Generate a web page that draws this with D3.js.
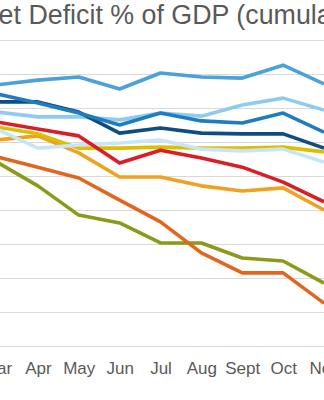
<!DOCTYPE html>
<html>
<head>
<meta charset="utf-8">
<script src="https://cdn.jsdelivr.net/npm/d3@7"></script>
<style>
  html, body { margin: 0; padding: 0; background: #fff; overflow: hidden; }
  svg { display: block; }
</style>
</head>
<body>
<div id="chart"></div>
<script>
const title = "Budget Deficit % of GDP (cumulative)";
const months = ["Mar", "Apr", "May", "Jun", "Jul", "Aug", "Sept", "Oct", "Nov"];
const gridValues = [1, 0, -1, -2, -3, -4, -5, -6, -7, -8];

const seriesA = [-0.32, -0.18, -0.09, -0.44, 0.03, -0.09, -0.12, 0.26, -0.29];
const seriesB = [-0.59, -0.85, -1.15, -1.50, -1.15, -1.38, -1.44, -1.15, -1.71];
const seriesC = [-0.82, -0.82, -1.12, -1.74, -1.59, -1.74, -1.76, -1.76, -2.18];
const seriesD = [-1.12, -1.26, -1.26, -1.35, -1.15, -1.24, -0.91, -0.71, -1.06];
const seriesE = [-1.62, -2.18, -2.09, -2.03, -1.94, -2.21, -2.26, -2.21, -2.59];
const seriesF = [-1.56, -1.76, -2.18, -2.18, -2.15, -2.18, -2.18, -2.15, -2.29];
const seriesG = [-1.94, -1.82, -2.32, -3.03, -3.03, -3.29, -3.44, -3.35, -4.00];
const seriesH = [-1.41, -1.62, -1.82, -2.62, -2.24, -2.47, -2.74, -3.18, -3.76];
const seriesI = [-2.44, -2.74, -3.06, -3.71, -4.35, -5.26, -5.85, -5.85, -6.74];
const seriesJ = [-2.59, -3.29, -4.15, -4.38, -4.97, -4.97, -5.41, -5.50, -6.15];

// drawing order (bottom first)
const series = [
  { values: seriesJ, color: "#8c9a1a" },
  { values: seriesI, color: "#e2661e" },
  { values: seriesG, color: "#eea21f" },
  { values: seriesF, color: "#dcc000" },
  { values: seriesE, color: "#c9e4f6" },
  { values: seriesH, color: "#d91e26" },
  { values: seriesD, color: "#8fcbee" },
  { values: seriesC, color: "#0f4c81" },
  { values: seriesB, color: "#1f7dbf" },
  { values: seriesA, color: "#4aa2d6" }
];

const W = 324, H = 400;
const svg = d3.select("#chart").append("svg").attr("width", W).attr("height", H);

const x = d3.scalePoint().domain(months).range([-3, 324]);
const y = d3.scaleLinear().domain([1, -8]).range([40, 346]);

// gridlines
svg.append("g").selectAll("line").data(gridValues).join("line")
  .attr("x1", -100).attr("x2", W + 100)
  .attr("y1", d => Math.round(y(d)) + 0.5).attr("y2", d => Math.round(y(d)) + 0.5)
  .attr("stroke", "#d9d9d9").attr("stroke-width", 1);

// x axis labels
const xAxis = d3.axisBottom(x).tickSize(0).tickPadding(0);
const gx = svg.append("g").attr("transform", "translate(0,362)").call(xAxis);
gx.select(".domain").remove();
gx.selectAll("text")
  .attr("dy", "0.71em")
  .attr("font-family", "Liberation Sans, Arial, sans-serif")
  .attr("font-size", 17)
  .attr("fill", "#595959");

// title
svg.append("text")
  .attr("x", -64).attr("y", 24)
  .attr("font-family", "Liberation Sans, Arial, sans-serif")
  .attr("font-size", 26.8)
  .attr("fill", "#595959")
  .text(title);

// lines
const line = d3.line().x((d, i) => x(months[i])).y(d => y(d));
svg.append("g").selectAll("path").data(series).join("path")
  .attr("d", d => line(d.values))
  .attr("fill", "none")
  .attr("stroke", d => d.color)
  .attr("stroke-width", 3.6)
  .attr("stroke-linejoin", "round")
  .attr("stroke-linecap", "butt");
</script>
</body>
</html>
